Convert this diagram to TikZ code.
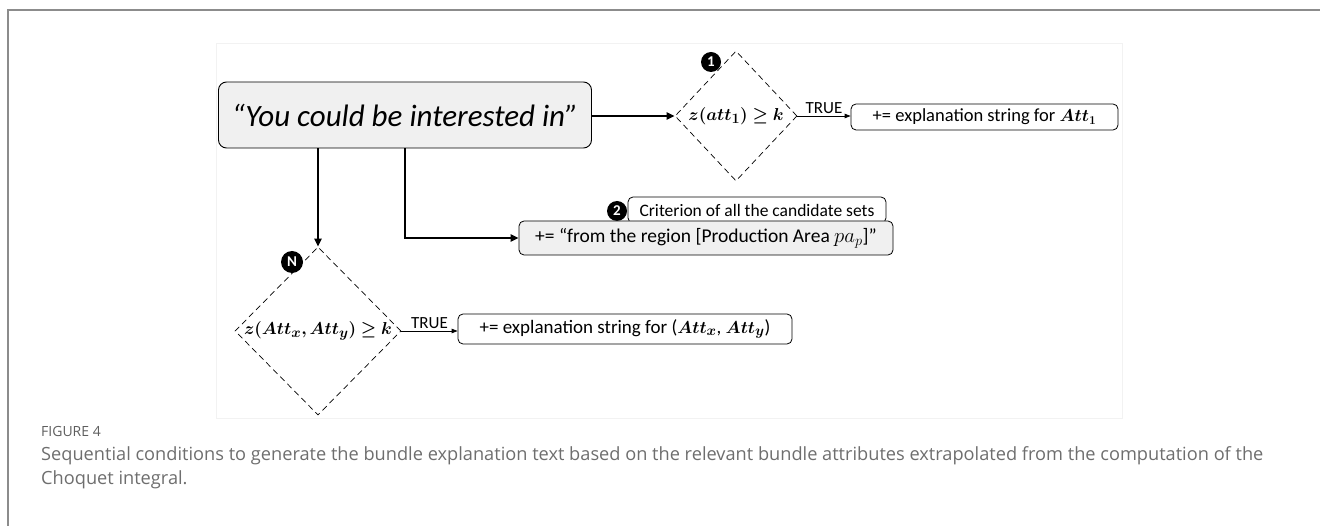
\documentclass[tikz,border=0pt]{standalone}
\usepackage{amsmath,amssymb,bm}
\usepackage{fontspec}
\setmainfont{Carlito}
\newfontfamily\capfont{Open Sans}
\usepackage{tikz}
\usetikzlibrary{shapes.geometric,arrows.meta}

\definecolor{boxgray}{HTML}{F0F0F0}
\definecolor{framegray}{HTML}{8C8C8C}
\definecolor{capgray}{HTML}{6E6E6E}

\tikzset{
  startbox/.style={draw, line width=0.9pt, rounded corners=8pt, fill=boxgray,
    minimum width=373pt, minimum height=66pt, inner sep=0pt},
  decision/.style={draw, diamond, dash pattern=on 6pt off 4pt, line width=0.7pt,
    inner sep=0pt},
  outbox/.style={draw, line width=0.8pt, rounded corners=5pt, fill=white,
    inner sep=0pt, font=\fontsize{18.5}{21}\selectfont},
  stepnum/.style={circle, fill=black, text=white, inner sep=0pt,
    font=\fontsize{15}{15}\selectfont\bfseries},
  flow/.style={-{Triangle[length=8pt,width=7pt]}, line width=2pt},
  trueflow/.style={-{Triangle[length=6pt,width=4.5pt]}, line width=0.9pt},
  truelab/.style={above, inner sep=1.5pt, font=\fontsize{17}{17}\selectfont},
}

\begin{document}
\begin{tikzpicture}[x=1pt,y=-1pt]
  \useasboundingbox (0,0) rectangle (1320,526);
  % page frame and panel
  \draw[framegray, line width=1.5pt] (1320,10) -- (8,10) -- (8,526);
  \draw[black!5, fill=white] (216,43) rectangle (1122,418);

  \node[startbox] (start) at (405,115)
    {\fontsize{31}{35}\selectfont\itshape “You could be interested in”};

  % condition 1
  \node[decision, minimum width=122pt, minimum height=130pt] (d1) at (736,116) {};
  \node (d1t) at (d1.center) {\fontsize{19}{21}\selectfont $\bm{z(att_1)\geq k}$};
  \node[stepnum, minimum size=20pt] (n1) at (711,62) {1};
  \node[outbox, minimum width=267pt, minimum height=26pt] (b1) at (984.5,117)
    {+= explanation string for $\bm{Att_1}$};

  % condition 2
  \node[stepnum, minimum size=20pt] (n2) at (617,211) {2};
  \node[outbox, fill=white, minimum width=258pt, minimum height=26pt,
    font=\fontsize{17.5}{20}\selectfont] (tab) at (757,210)
    {Criterion of all the candidate sets};
  \node[outbox, fill=boxgray, minimum width=374pt, minimum height=34pt,
    font=\fontsize{19.5}{22}\selectfont] (b2) at (706,238)
    {+= “from the region [Production Area $pa_p$]”};

  % condition N
  \node[decision, minimum width=166pt, minimum height=168pt] (dN) at (318,331) {};
  \node (dNt) at (dN.center) {\fontsize{19}{21}\selectfont $\bm{z(Att_x,Att_y)\geq k}$};
  \node[stepnum, minimum size=22pt] (nN) at (292,262) {N};
  \node[outbox, minimum width=334pt, minimum height=30pt,
    font=\fontsize{19}{22}\selectfont] (bN) at (625,329)
    {+= explanation string for ($\bm{Att_x}$, $\bm{Att_y}$)};

  % connectors
  \draw[flow] (start.east |- d1.west) -- (d1.west);
  \draw[flow] (start.south -| dN.north) -- (dN.north);
  \draw[flow] (start.south) |- (b2.west);
  \draw[trueflow] (d1.east) -- node[truelab] {TRUE} (b1.west |- d1.east);
  \draw[trueflow] (dN.east) -- node[truelab] {TRUE} (bN.west |- dN.east);

  % caption
  \node[anchor=base west, inner sep=0pt, text=capgray!85!black,
    font=\capfont\fontsize{14}{14}\selectfont] (figno) at (41,436) {FIGURE 4};
  \node[anchor=north west, inner sep=0pt, text=capgray, align=left,
    font=\capfont\fontsize{18.2}{24}\selectfont] (caption) at (41,446)
    {Sequential conditions to generate the bundle explanation text based on the relevant bundle attributes extrapolated from the computation of the\\
     Choquet integral.};
\end{tikzpicture}
\end{document}
